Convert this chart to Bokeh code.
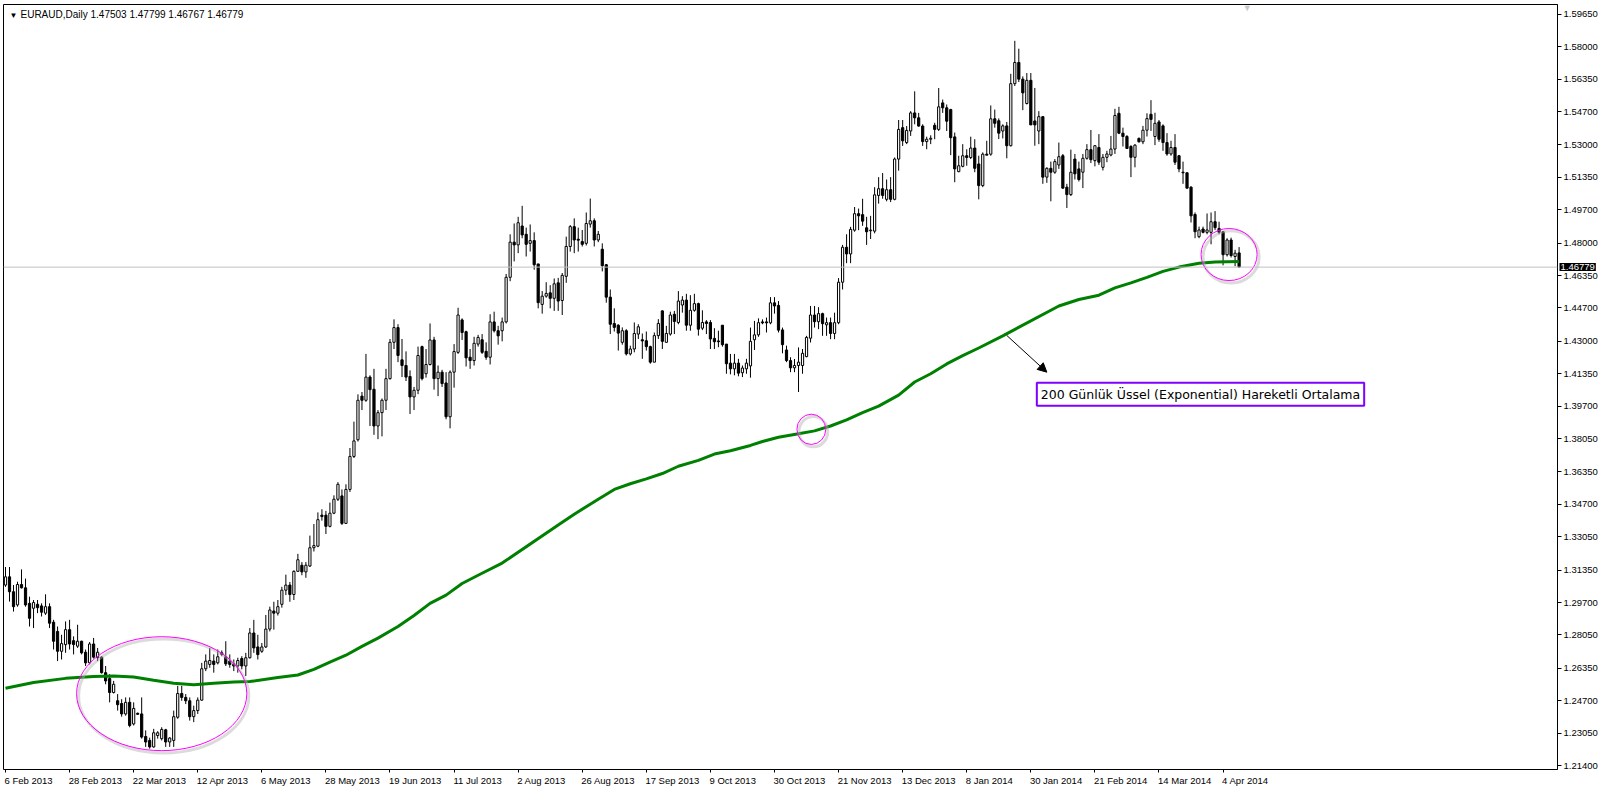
from bokeh.plotting import figure
from bokeh.models import (ColumnDataSource, Range1d, LinearAxis, FixedTicker,
                          PrintfTickFormatter, Label, Span, Arrow, NormalHead)
from bokeh.embed import file_html
from bokeh.resources import INLINE

# ---------------- data ----------------
title_text = "EURAUD,Daily  1.47503 1.47799 1.46767 1.46779"
last_price = 1.46779

date_labels = ["6 Feb 2013", "28 Feb 2013", "22 Mar 2013", "12 Apr 2013", "6 May 2013",
               "28 May 2013", "19 Jun 2013", "11 Jul 2013", "2 Aug 2013", "26 Aug 2013",
               "17 Sep 2013", "9 Oct 2013", "30 Oct 2013", "21 Nov 2013", "13 Dec 2013",
               "8 Jan 2014", "30 Jan 2014", "21 Feb 2014", "14 Mar 2014", "4 Apr 2014"]
date_label_bars = [0, 16, 32, 48, 64, 80, 96, 112, 128, 144,
                   160, 176, 192, 208, 224, 240, 256, 272, 288, 304]

y_ticks = [1.21400, 1.23050, 1.24700, 1.26350, 1.28050, 1.29700, 1.31350, 1.33050,
           1.34700, 1.36350, 1.38050, 1.39700, 1.41350, 1.43000, 1.44700, 1.46350,
           1.48000, 1.49700, 1.51350, 1.53000, 1.54700, 1.56350, 1.58000, 1.59650]

opens = [
 1.3059, 1.3101, 1.3025, 1.2958, 1.3062, 1.3045, 1.2966, 1.2941, 1.2961, 1.2953,
 1.2916, 1.2949, 1.2870, 1.2823, 1.2722, 1.2756, 1.2832, 1.2776, 1.2748, 1.2773,
 1.2717, 1.2663, 1.2759, 1.2689, 1.2692, 1.2613, 1.2583, 1.2512, 1.2470, 1.2456,
 1.2403, 1.2462, 1.2352, 1.2406, 1.2403, 1.2288, 1.2268, 1.2235, 1.2293, 1.2277,
 1.2322, 1.2260, 1.2268, 1.2386, 1.2507, 1.2487, 1.2470, 1.2389, 1.2420, 1.2473,
 1.2633, 1.2655, 1.2672, 1.2663, 1.2714, 1.2694, 1.2672, 1.2658, 1.2647, 1.2685,
 1.2647, 1.2689, 1.2815, 1.2744, 1.2722, 1.2744, 1.2835, 1.2927, 1.2916, 1.2961,
 1.3033, 1.3059, 1.3011, 1.3129, 1.3160, 1.3126, 1.3156, 1.3249, 1.3257, 1.3415,
 1.3415, 1.3358, 1.3425, 1.3496, 1.3513, 1.3373, 1.3546, 1.3714, 1.3799, 1.4021,
 1.4000, 1.4118, 1.4056, 1.3869, 1.3937, 1.4000, 1.4110, 1.4295, 1.4370, 1.4206,
 1.4177, 1.4121, 1.4017, 1.4051, 1.4273, 1.4135, 1.4182, 1.4307, 1.4110, 1.4143,
 1.4088, 1.3916, 1.4143, 1.4244, 1.4409, 1.4349, 1.4219, 1.4202, 1.4286, 1.4308,
 1.4249, 1.4219, 1.4399, 1.4354, 1.4354, 1.4399, 1.4626, 1.4805, 1.4791, 1.4887,
 1.4845, 1.4799, 1.4813, 1.4694, 1.4488, 1.4530, 1.4547, 1.4519, 1.4598, 1.4508,
 1.4631, 1.4783, 1.4884, 1.4820, 1.4808, 1.4799, 1.4897, 1.4914, 1.4816, 1.4769,
 1.4690, 1.4525, 1.4391, 1.4382, 1.4295, 1.4354, 1.4236, 1.4261, 1.4337, 1.4308,
 1.4303, 1.4273, 1.4194, 1.4329, 1.4455, 1.4295, 1.4337, 1.4438, 1.4396, 1.4485,
 1.4510, 1.4382, 1.4458, 1.4492, 1.4367, 1.4399, 1.4396, 1.4315, 1.4302, 1.4382,
 1.4286, 1.4189, 1.4160, 1.4189, 1.4140, 1.4160, 1.4175, 1.4308, 1.4333, 1.4399,
 1.4399, 1.4394, 1.4496, 1.4483, 1.4358, 1.4256, 1.4202, 1.4165, 1.4177, 1.4177,
 1.4222, 1.4316, 1.4434, 1.4400, 1.4441, 1.4384, 1.4395, 1.4340, 1.4395, 1.4601,
 1.4779, 1.4745, 1.4866, 1.4950, 1.4945, 1.4878, 1.4863, 1.4861, 1.5043, 1.5077,
 1.5023, 1.5072, 1.5023, 1.5228, 1.5388, 1.5312, 1.5371, 1.5463, 1.5438, 1.5396,
 1.5317, 1.5329, 1.5400, 1.5379, 1.5514, 1.5489, 1.5480, 1.5341, 1.5164, 1.5191,
 1.5245, 1.5236, 1.5284, 1.5203, 1.5093, 1.5253, 1.5253, 1.5433, 1.5423, 1.5371,
 1.5397, 1.5296, 1.5612, 1.5720, 1.5635, 1.5511, 1.5629, 1.5422, 1.5371, 1.5444,
 1.5136, 1.5181, 1.5161, 1.5198, 1.5245, 1.5085, 1.5047, 1.5228, 1.5178, 1.5161,
 1.5232, 1.5276, 1.5220, 1.5287, 1.5186, 1.5237, 1.5249, 1.5279, 1.5461, 1.5360,
 1.5343, 1.5292, 1.5237, 1.5333, 1.5316, 1.5375, 1.5456, 1.5343, 1.5417, 1.5397,
 1.5312, 1.5254, 1.5287, 1.5245, 1.5161, 1.5158, 1.5085, 1.4946, 1.4833, 1.4872,
 1.4855, 1.4855, 1.4909, 1.4875, 1.4858, 1.4741, 1.4816, 1.4732, 1.47503]

highs = [
 1.3151, 1.3151, 1.3059, 1.3076, 1.3139, 1.3092, 1.3000, 1.2983, 1.2983, 1.2966,
 1.3012, 1.2966, 1.2882, 1.2848, 1.2806, 1.2874, 1.2882, 1.2798, 1.2857, 1.2776,
 1.2731, 1.2769, 1.2790, 1.2739, 1.2697, 1.2647, 1.2605, 1.2571, 1.2504, 1.2478,
 1.2487, 1.2487, 1.2462, 1.2410, 1.2487, 1.2319, 1.2282, 1.2327, 1.2315, 1.2335,
 1.2327, 1.2285, 1.2420, 1.2546, 1.2546, 1.2504, 1.2487, 1.2445, 1.2487, 1.2663,
 1.2706, 1.2739, 1.2706, 1.2731, 1.2726, 1.2773, 1.2706, 1.2680, 1.2689, 1.2697,
 1.2714, 1.2840, 1.2882, 1.2806, 1.2764, 1.2907, 1.2949, 1.2974, 1.2983, 1.3050,
 1.3112, 1.3075, 1.3134, 1.3218, 1.3176, 1.3176, 1.3311, 1.3370, 1.3429, 1.3445,
 1.3437, 1.3479, 1.3516, 1.3583, 1.3546, 1.3572, 1.3757, 1.3891, 1.4030, 1.4042,
 1.4236, 1.4127, 1.4160, 1.3950, 1.4009, 1.4160, 1.4312, 1.4412, 1.4387, 1.4312,
 1.4249, 1.4152, 1.4068, 1.4273, 1.4278, 1.4261, 1.4391, 1.4323, 1.4177, 1.4155,
 1.4143, 1.4152, 1.4286, 1.4471, 1.4417, 1.4354, 1.4261, 1.4323, 1.4333, 1.4337,
 1.4295, 1.4438, 1.4451, 1.4379, 1.4421, 1.4643, 1.4845, 1.4900, 1.4934, 1.4990,
 1.4879, 1.4895, 1.4855, 1.4694, 1.4556, 1.4601, 1.4586, 1.4620, 1.4623, 1.4648,
 1.4833, 1.4892, 1.4926, 1.4879, 1.4867, 1.4956, 1.5027, 1.4926, 1.4862, 1.4799,
 1.4694, 1.4564, 1.4468, 1.4387, 1.4371, 1.4362, 1.4278, 1.4396, 1.4387, 1.4340,
 1.4350, 1.4278, 1.4345, 1.4413, 1.4458, 1.4379, 1.4451, 1.4455, 1.4556, 1.4530,
 1.4542, 1.4535, 1.4542, 1.4497, 1.4458, 1.4408, 1.4408, 1.4367, 1.4354, 1.4382,
 1.4286, 1.4236, 1.4236, 1.4211, 1.4177, 1.4211, 1.4370, 1.4404, 1.4417, 1.4412,
 1.4421, 1.4525, 1.4525, 1.4505, 1.4370, 1.4278, 1.4219, 1.4210, 1.4269, 1.4261,
 1.4328, 1.4480, 1.4480, 1.4474, 1.4446, 1.4421, 1.4421, 1.4446, 1.4622, 1.4791,
 1.4845, 1.4883, 1.4984, 1.4976, 1.5026, 1.4934, 1.4939, 1.5085, 1.5136, 1.5157,
 1.5124, 1.5136, 1.5236, 1.5427, 1.5427, 1.5396, 1.5472, 1.5573, 1.5463, 1.5405,
 1.5342, 1.5349, 1.5413, 1.5590, 1.5531, 1.5506, 1.5484, 1.5363, 1.5245, 1.5304,
 1.5278, 1.5342, 1.5329, 1.5245, 1.5262, 1.5321, 1.5501, 1.5480, 1.5435, 1.5405,
 1.5417, 1.5662, 1.5830, 1.5790, 1.5649, 1.5666, 1.5666, 1.5590, 1.5472, 1.5447,
 1.5186, 1.5215, 1.5228, 1.5312, 1.5254, 1.5102, 1.5276, 1.5254, 1.5215, 1.5254,
 1.5304, 1.5376, 1.5299, 1.5355, 1.5254, 1.5270, 1.5346, 1.5484, 1.5494, 1.5388,
 1.5350, 1.5299, 1.5304, 1.5338, 1.5397, 1.5461, 1.5528, 1.5464, 1.5427, 1.5405,
 1.5360, 1.5321, 1.5355, 1.5249, 1.5215, 1.5161, 1.5090, 1.4956, 1.4884, 1.4884,
 1.4951, 1.4956, 1.4963, 1.4909, 1.4862, 1.4825, 1.4828, 1.4766, 1.47799]

lows = [
 1.3050, 1.2975, 1.2924, 1.2949, 1.3042, 1.2949, 1.2848, 1.2840, 1.2916, 1.2899,
 1.2907, 1.2840, 1.2731, 1.2672, 1.2680, 1.2714, 1.2731, 1.2706, 1.2739, 1.2706,
 1.2647, 1.2655, 1.2685, 1.2672, 1.2608, 1.2554, 1.2462, 1.2507, 1.2420, 1.2389,
 1.2394, 1.2335, 1.2344, 1.2398, 1.2277, 1.2235, 1.2226, 1.2231, 1.2277, 1.2268,
 1.2235, 1.2235, 1.2235, 1.2378, 1.2470, 1.2453, 1.2369, 1.2361, 1.2403, 1.2470,
 1.2621, 1.2638, 1.2613, 1.2655, 1.2697, 1.2647, 1.2638, 1.2621, 1.2613, 1.2630,
 1.2596, 1.2685, 1.2714, 1.2680, 1.2714, 1.2739, 1.2823, 1.2832, 1.2904, 1.2944,
 1.3008, 1.2974, 1.2983, 1.3126, 1.3109, 1.3096, 1.3151, 1.3230, 1.3252, 1.3387,
 1.3319, 1.3353, 1.3420, 1.3487, 1.3365, 1.3370, 1.3533, 1.3706, 1.3790, 1.3950,
 1.3992, 1.3869, 1.3824, 1.3802, 1.3816, 1.3950, 1.4105, 1.4261, 1.4194, 1.4118,
 1.4098, 1.3930, 1.3950, 1.4031, 1.4101, 1.4115, 1.4177, 1.4054, 1.4021, 1.4068,
 1.3903, 1.3857, 1.4064, 1.4236, 1.4307, 1.4172, 1.4160, 1.4177, 1.4273, 1.4236,
 1.4206, 1.4182, 1.4345, 1.4283, 1.4300, 1.4391, 1.4606, 1.4707, 1.4749, 1.4825,
 1.4732, 1.4757, 1.4665, 1.4468, 1.4441, 1.4522, 1.4468, 1.4455, 1.4455, 1.4434,
 1.4598, 1.4757, 1.4749, 1.4757, 1.4783, 1.4788, 1.4879, 1.4783, 1.4805, 1.4656,
 1.4497, 1.4337, 1.4350, 1.4253, 1.4283, 1.4228, 1.4228, 1.4244, 1.4312, 1.4211,
 1.4253, 1.4186, 1.4194, 1.4312, 1.4261, 1.4295, 1.4329, 1.4337, 1.4387, 1.4446,
 1.4354, 1.4354, 1.4451, 1.4329, 1.4357, 1.4337, 1.4261, 1.4261, 1.4270, 1.4273,
 1.4135, 1.4132, 1.4127, 1.4122, 1.4118, 1.4135, 1.4115, 1.4256, 1.4323, 1.4387,
 1.4345, 1.4387, 1.4441, 1.4345, 1.4239, 1.4194, 1.4143, 1.4143, 1.4042, 1.4135,
 1.4219, 1.4294, 1.4370, 1.4362, 1.4328, 1.4328, 1.4311, 1.4311, 1.4387, 1.4564,
 1.4698, 1.4698, 1.4858, 1.4866, 1.4888, 1.4791, 1.4821, 1.4850, 1.5001, 1.5026,
 1.5013, 1.5009, 1.5018, 1.5169, 1.5295, 1.5304, 1.5346, 1.5405, 1.5393, 1.5295,
 1.5278, 1.5304, 1.5329, 1.5371, 1.5463, 1.5371, 1.5248, 1.5110, 1.5161, 1.5186,
 1.5194, 1.5228, 1.5161, 1.5023, 1.5085, 1.5248, 1.5245, 1.5388, 1.5330, 1.5333,
 1.5232, 1.5292, 1.5600, 1.5620, 1.5477, 1.5506, 1.5402, 1.5296, 1.5304, 1.5102,
 1.5107, 1.5013, 1.5153, 1.5178, 1.5077, 1.4979, 1.5040, 1.5124, 1.5114, 1.5080,
 1.5225, 1.5208, 1.5191, 1.5198, 1.5170, 1.5212, 1.5242, 1.5254, 1.5355, 1.5292,
 1.5282, 1.5136, 1.5186, 1.5312, 1.5304, 1.5343, 1.5371, 1.5299, 1.5316, 1.5270,
 1.5245, 1.5245, 1.5198, 1.5161, 1.5102, 1.5077, 1.4905, 1.4825, 1.4825, 1.4850,
 1.4845, 1.4794, 1.4867, 1.4845, 1.4687, 1.4732, 1.4727, 1.4682, 1.46767]

closes = [
 1.3101, 1.3025, 1.2949, 1.3062, 1.3045, 1.2958, 1.2890, 1.2970, 1.2944, 1.2921,
 1.2949, 1.2865, 1.2773, 1.2722, 1.2761, 1.2832, 1.2759, 1.2756, 1.2773, 1.2714,
 1.2663, 1.2759, 1.2692, 1.2717, 1.2613, 1.2571, 1.2512, 1.2554, 1.2450, 1.2403,
 1.2462, 1.2344, 1.2431, 1.2401, 1.2285, 1.2260, 1.2235, 1.2307, 1.2307, 1.2324,
 1.2260, 1.2280, 1.2389, 1.2507, 1.2487, 1.2470, 1.2389, 1.2420, 1.2473, 1.2633,
 1.2672, 1.2675, 1.2655, 1.2694, 1.2706, 1.2658, 1.2655, 1.2647, 1.2675, 1.2647,
 1.2689, 1.2815, 1.2739, 1.2705, 1.2744, 1.2835, 1.2932, 1.2916, 1.2949, 1.3033,
 1.3059, 1.3011, 1.3129, 1.3188, 1.3126, 1.3160, 1.3249, 1.3260, 1.3392, 1.3408,
 1.3358, 1.3425, 1.3496, 1.3572, 1.3373, 1.3546, 1.3714, 1.3793, 1.4000, 1.4000,
 1.4118, 1.4054, 1.3869, 1.3937, 1.4000, 1.4110, 1.4295, 1.4370, 1.4228, 1.4177,
 1.4118, 1.4017, 1.4051, 1.4228, 1.4110, 1.4182, 1.4307, 1.4110, 1.4143, 1.4085,
 1.3916, 1.4143, 1.4248, 1.4434, 1.4345, 1.4216, 1.4202, 1.4290, 1.4320, 1.4244,
 1.4219, 1.4399, 1.4354, 1.4328, 1.4399, 1.4626, 1.4805, 1.4791, 1.4904, 1.4842,
 1.4794, 1.4813, 1.4690, 1.4497, 1.4530, 1.4544, 1.4519, 1.4593, 1.4505, 1.4636,
 1.4783, 1.4884, 1.4816, 1.4815, 1.4794, 1.4900, 1.4914, 1.4816, 1.4845, 1.4685,
 1.4525, 1.4387, 1.4371, 1.4342, 1.4354, 1.4236, 1.4261, 1.4340, 1.4374, 1.4302,
 1.4273, 1.4194, 1.4329, 1.4391, 1.4300, 1.4340, 1.4434, 1.4401, 1.4505, 1.4510,
 1.4382, 1.4458, 1.4492, 1.4362, 1.4396, 1.4391, 1.4312, 1.4298, 1.4298, 1.4283,
 1.4186, 1.4160, 1.4189, 1.4138, 1.4164, 1.4189, 1.4300, 1.4333, 1.4395, 1.4394,
 1.4394, 1.4496, 1.4480, 1.4357, 1.4283, 1.4202, 1.4165, 1.4177, 1.4194, 1.4239,
 1.4320, 1.4434, 1.4400, 1.4441, 1.4390, 1.4395, 1.4340, 1.4395, 1.4601, 1.4779,
 1.4745, 1.4870, 1.4950, 1.4939, 1.4912, 1.4858, 1.4866, 1.5046, 1.5077, 1.5043,
 1.5072, 1.5023, 1.5228, 1.5379, 1.5321, 1.5374, 1.5463, 1.5438, 1.5396, 1.5317,
 1.5329, 1.5334, 1.5379, 1.5494, 1.5489, 1.5421, 1.5337, 1.5178, 1.5194, 1.5245,
 1.5236, 1.5284, 1.5181, 1.5093, 1.5253, 1.5248, 1.5433, 1.5410, 1.5360, 1.5397,
 1.5296, 1.5612, 1.5720, 1.5635, 1.5565, 1.5629, 1.5402, 1.5402, 1.5444, 1.5136,
 1.5181, 1.5161, 1.5215, 1.5240, 1.5080, 1.5047, 1.5161, 1.5153, 1.5124, 1.5232,
 1.5276, 1.5225, 1.5296, 1.5212, 1.5237, 1.5254, 1.5279, 1.5450, 1.5360, 1.5343,
 1.5282, 1.5237, 1.5299, 1.5316, 1.5375, 1.5434, 1.5430, 1.5410, 1.5329, 1.5312,
 1.5254, 1.5287, 1.5212, 1.5178, 1.5158, 1.5080, 1.4939, 1.4858, 1.4867, 1.4855,
 1.4867, 1.4909, 1.4879, 1.4855, 1.4741, 1.4816, 1.4737, 1.4749, 1.46779]

# 200-day EMA, read at sample bars
ema_bar = [0, 7, 15, 22, 27, 32, 37, 42, 47, 52,
           57, 61, 68, 73, 77, 81, 85, 89, 93, 98,
           102, 106, 110, 114, 118, 124, 138, 142, 148, 152,
           156, 160, 164, 168, 173, 177, 181, 186, 189, 193,
           198, 202, 206, 210, 214, 218, 223, 227, 231, 235,
           239, 243, 249, 263, 268, 273, 277, 281, 285, 289,
           293, 298, 302, 308]
ema_val = [1.2534, 1.2563, 1.2584, 1.2594, 1.2596, 1.2591, 1.2574, 1.2559, 1.2552, 1.2559,
           1.2566, 1.2568, 1.2588, 1.2601, 1.2630, 1.2667, 1.2702, 1.2747, 1.2789, 1.2848,
           1.2904, 1.2966, 1.3008, 1.3067, 1.3109, 1.3171, 1.3365, 1.3420, 1.3496, 1.3546,
           1.3575, 1.3600, 1.3627, 1.3664, 1.3694, 1.3726, 1.3743, 1.3770, 1.3790, 1.3812,
           1.3829, 1.3844, 1.3869, 1.3900, 1.3937, 1.3970, 1.4026, 1.4093, 1.4135, 1.4185,
           1.4227, 1.4266, 1.4328, 1.4480, 1.4513, 1.4535, 1.4572, 1.4598, 1.4626, 1.4656,
           1.4678, 1.4698, 1.4704, 1.4707]

annotation_text = "200 Günlük Üssel (Exponential) Hareketli Ortalama"

# ---------------- figure ----------------
AX_FONT = "Liberation Sans"
AX_SIZE = 9.5
X0, X1 = -0.5, 387.5
Y0, Y1 = 1.2120, 1.6015
W, H = 1600, 796

p = figure(width=W, height=H, output_backend="svg", toolbar_location=None,
           x_range=Range1d(X0, X1), y_range=Range1d(Y0, Y1),
           x_axis_location=None, y_axis_location=None,
           min_border_left=3, min_border_top=4, min_border_right=4, min_border_bottom=1)
p.grid.visible = False
p.outline_line_color = "black"
p.outline_line_width = 1
p.outline_line_alpha = 1.0
p.background_fill_color = "white"
p.border_fill_color = "white"

# right price axis
yaxis = LinearAxis(ticker=FixedTicker(ticks=y_ticks),
                   formatter=PrintfTickFormatter(format="%.5f"))
yaxis.major_tick_in = 0
yaxis.major_tick_out = 4
yaxis.minor_tick_in = 0
yaxis.minor_tick_out = 0
yaxis.axis_line_color = "black"
yaxis.major_tick_line_color = "black"
yaxis.major_label_standoff = 2
yaxis.major_label_text_font = AX_FONT
yaxis.major_label_text_font_size = f"{AX_SIZE}px"
yaxis.major_label_text_color = "black"
p.add_layout(yaxis, "right")

# bottom date axis: tick marks (minor ticks) at the dated bars, labels starting at them.
# Arial/Liberation advance widths (em) to centre each label just right of its tick.
EM = {" ": 0.278, "F": 0.611, "M": 0.833, "A": 0.667, "J": 0.5, "S": 0.667, "O": 0.778,
      "N": 0.722, "D": 0.722, "e": 0.556, "b": 0.556, "a": 0.556, "r": 0.333, "p": 0.556,
      "y": 0.5, "u": 0.556, "n": 0.556, "l": 0.222, "g": 0.556, "c": 0.5, "t": 0.278,
      "o": 0.556, "v": 0.5}
frame_px = W - 3 - 47
px_per_bar = frame_px / (X1 - X0)
label_centres = [b + (sum(EM.get(ch, 0.556) for ch in t) * AX_SIZE / 2 - 1) / px_per_bar
                 for b, t in zip(date_label_bars, date_labels)]
xaxis = LinearAxis(ticker=FixedTicker(ticks=label_centres, minor_ticks=date_label_bars))
xaxis.major_label_overrides = {c: t for c, t in zip(label_centres, date_labels)}
xaxis.major_label_standoff = 2
xaxis.major_label_text_font = AX_FONT
xaxis.major_label_text_font_size = f"{AX_SIZE}px"
xaxis.major_label_text_color = "black"
xaxis.major_tick_in = 0
xaxis.major_tick_out = 0
xaxis.major_tick_line_color = None
xaxis.minor_tick_in = 0
xaxis.minor_tick_out = 3
xaxis.minor_tick_line_color = "black"
xaxis.axis_line_color = None
p.add_layout(xaxis, "below")

# current price line
p.add_layout(Span(location=last_price, dimension="width", line_color="#c0c0c0", line_width=1))

# candles
n = len(closes)
src = ColumnDataSource(dict(
    x=list(range(n)), o=opens, h=highs, l=lows, c=closes,
    top=[max(o, c) for o, c in zip(opens, closes)],
    bot=[min(o, c) for o, c in zip(opens, closes)],
    fill=["white" if c >= o else "black" for o, c in zip(opens, closes)],
))
p.segment(x0="x", y0="l", x1="x", y1="h", source=src, line_color="black", line_width=1)
p.vbar(x="x", width=0.55, top="top", bottom="bot", source=src,
       fill_color="fill", line_color="black", line_width=1)

# EMA 200
p.line(ema_bar, ema_val, line_color="#008000", line_width=3)

# magenta ellipses (with MT4-like soft shadow)
ell_x = [39.0, 201.2, 305.5]
ell_y = [1.2506, 1.3852, 1.4742]
ell_w = [42.5, 7.2, 14.0]
ell_h = [0.0580, 0.0154, 0.0265]
p.ellipse(x=[v + 0.5 for v in ell_x], y=[v - 0.0012 for v in ell_y], width=ell_w, height=ell_h,
          fill_color=None, line_color="#b0b0b0", line_alpha=0.45, line_width=3)
p.ellipse(x=ell_x, y=ell_y, width=ell_w, height=ell_h,
          fill_color=None, line_color="#ff00ff", line_width=1)

# arrow and annotation box
p.add_layout(Arrow(end=NormalHead(size=9, fill_color="black", line_color="black"),
                   x_start=250.0, y_start=1.4330, x_end=260.0, y_end=1.4143,
                   line_color="black", line_width=1))
p.add_layout(Label(x=256.5, y=1.4030, x_offset=7, y_offset=-3, text=annotation_text,
                   text_align="left", text_baseline="middle", text_alpha=0.0,
                   text_font="DejaVu Sans", text_font_size="12.5px",
                   background_fill_color="#888888", background_fill_alpha=0.45,
                   padding=4))
p.add_layout(Label(x=256.5, y=1.4030, x_offset=4, text=annotation_text,
                   text_align="left", text_baseline="middle",
                   text_font="DejaVu Sans", text_font_size="12.5px", text_color="black",
                   background_fill_color="white", border_line_color="#7f00ff",
                   border_line_width=2, padding=4))

# title
p.add_layout(Label(x=X0, y=Y1, x_offset=6, y_offset=-6, text="▼",
                   text_align="left", text_baseline="top",
                   text_font=AX_FONT, text_font_size="8px", text_color="black"))
p.add_layout(Label(x=X0, y=Y1, x_offset=17, y_offset=-4, text=title_text,
                   text_align="left", text_baseline="top",
                   text_font=AX_FONT, text_font_size="10px", text_color="black"))
# chart-shift marker
p.add_layout(Label(x=310.0, y=Y1, y_offset=2, text="▼",
                   text_align="center", text_baseline="top",
                   text_font=AX_FONT, text_font_size="9px", text_color="#c8c8c8"))

# last price tag on the price axis (kept in a side panel so the frame does not clip it)
p.add_layout(Label(x=X1, y=last_price, x_offset=2, text=f"{last_price:.5f}",
                   text_align="left", text_baseline="middle",
                   text_font=AX_FONT, text_font_size=f"{AX_SIZE}px", text_color="white",
                   background_fill_color="black", padding=1), "below")

open("out.html", "w").write(file_html(p, INLINE))
